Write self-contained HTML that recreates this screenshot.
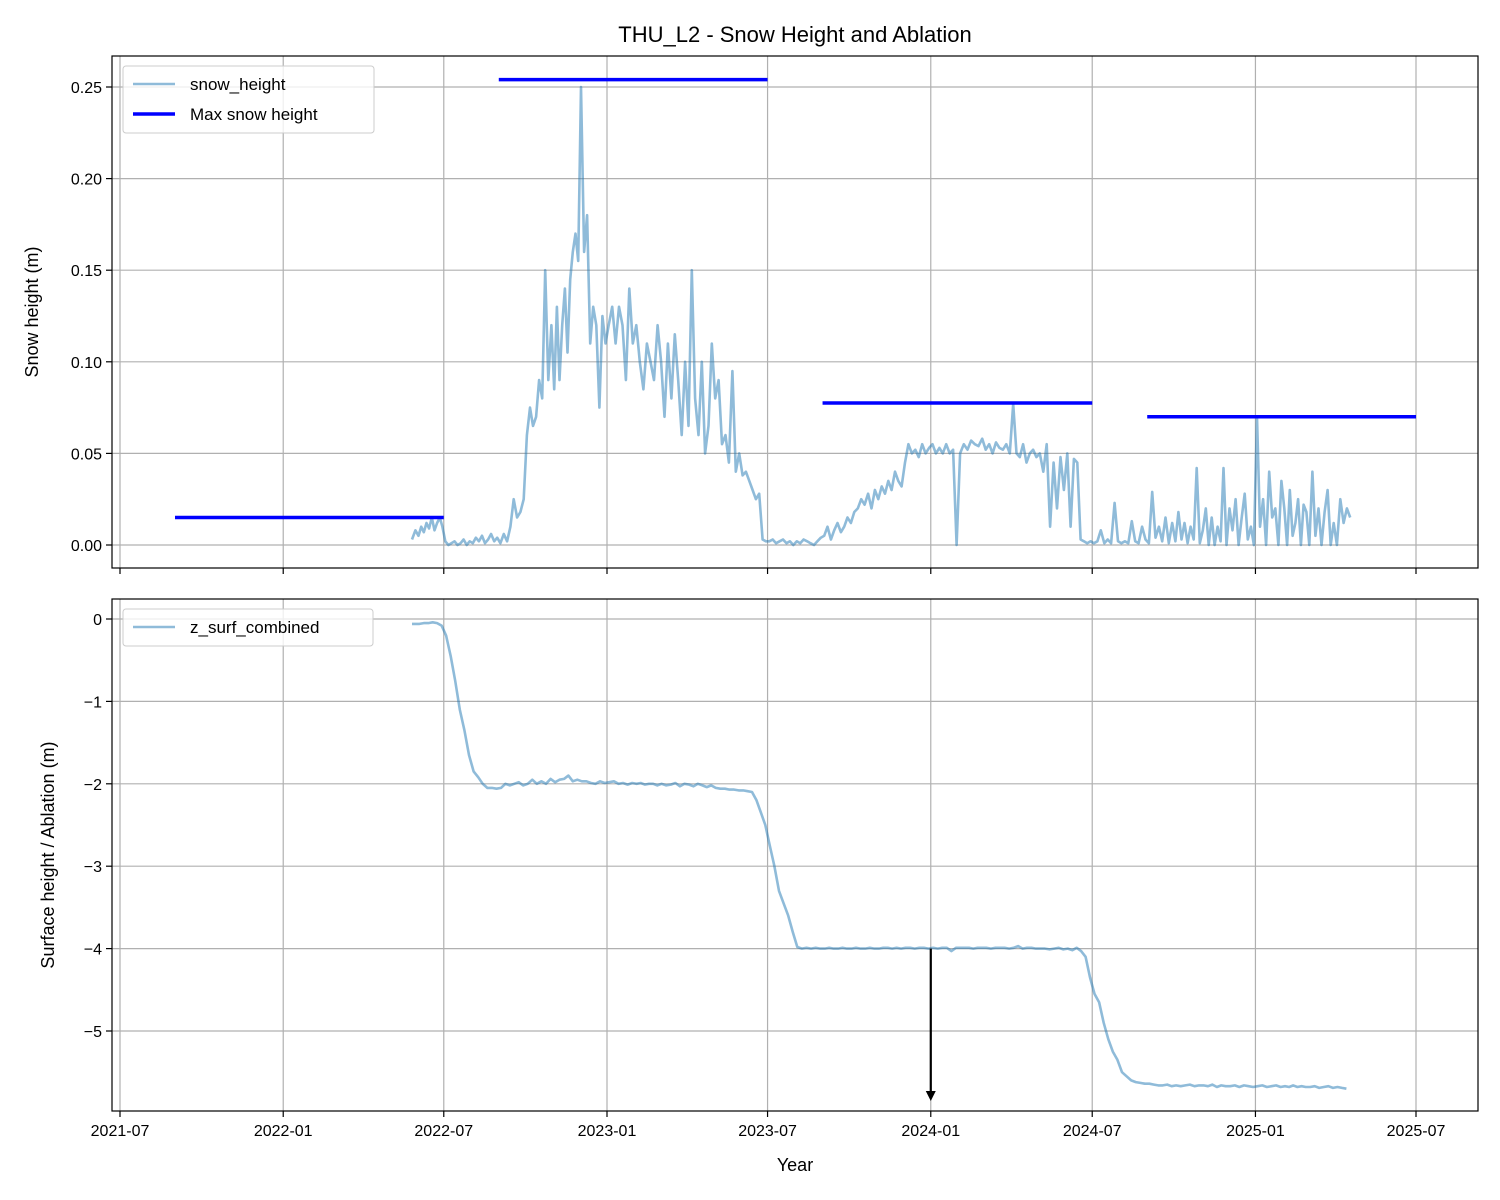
<!DOCTYPE html>
<html><head><meta charset="utf-8"><style>
body{margin:0;background:#fff}
svg{display:block;font-family:"Liberation Sans","DejaVu Sans",sans-serif}
</style></head><body>
<svg id="fig" width="1500" height="1200" viewBox="0 0 1500 1200">
<text x="795" y="42" text-anchor="middle" font-size="22">THU_L2 - Snow Height and Ablation</text>
<g id="topPanel"></g>
<g id="botPanel"></g>
<text x="795" y="1171" text-anchor="middle" font-size="18">Year</text>
<text transform="translate(38,312) rotate(-90)" text-anchor="middle" font-size="18">Snow height (m)</text>
<text transform="translate(54,855) rotate(-90)" text-anchor="middle" font-size="18">Surface height / Ablation (m)</text>
</svg>
<script>
const xTickLabels=['2021-07','2022-01','2022-07','2023-01','2023-07','2024-01','2024-07','2025-01','2025-07'];
const topYTicks=[0,0.05,0.10,0.15,0.20,0.25];
const topYLabels=['0.00','0.05','0.10','0.15','0.20','0.25'];
const botYTicks=[0,-1,-2,-3,-4,-5];
const botYLabels=['0','\u22121','\u22122','\u22123','\u22124','\u22125'];
const maxStart=['2021-09-01','2022-09-01','2023-09-01','2024-09-01'];
const maxEnd=['2022-07-01','2023-07-01','2024-07-01','2025-07-01'];
const maxVals=[0.015,0.254,0.0775,0.070];
const snowMonths=['2022-05','2022-06','2022-07','2022-08','2022-09','2022-10','2022-11','2022-12','2023-01','2023-02','2023-03','2023-04','2023-05','2023-06','2023-07','2023-08','2023-09','2023-10','2023-11','2023-12','2024-01','2024-02','2024-03','2024-04','2024-05','2024-06','2024-07','2024-08','2024-09','2024-10','2024-11','2024-12','2025-01','2025-02','2025-03','2025-04'];
const snowVals=[
[null,null,null,null,null,null,0.003,0.008],
[0.005,0.01,0.007,0.012,0.009,0.015,0.008,0.012,0.015,0.01],
[0.002,0,0.001,0.002,0,0.001,0.003,0,0.002],
[0.001,0.004,0.002,0.005,0.001,0.003,0.006,0.002,0.004],
[0.001,0.006,0.002,0.01,0.025,0.015,0.018,0.025],
[0.06,0.075,0.065,0.07,0.09,0.08,0.15,0.09,0.12],
[0.085,0.13,0.09,0.12,0.14,0.105,0.145,0.16,0.17,0.155],
[0.25,0.16,0.18,0.11,0.13,0.12,0.075,0.125,0.11],
[0.12,0.13,0.11,0.13,0.12,0.09,0.14,0.11],
[0.12,0.1,0.085,0.11,0.1,0.09,0.12],
[0.1,0.07,0.11,0.08,0.115,0.09,0.06,0.1],
[0.065,0.15,0.08,0.06,0.1,0.05,0.065,0.11],
[0.08,0.09,0.055,0.06,0.045,0.095,0.04,0.05],
[0.038,0.04,0.035,0.03,0.025,0.028,0.003,0.002],
[0.002,0.003,0.001,0.002,0.003,0.001,0.002,0],
[0.002,0.001,0.003,0.002,0.001,0,0.002,0.004],
[0.005,0.01,0.003,0.008,0.012,0.007,0.01,0.015],
[0.012,0.018,0.02,0.025,0.022,0.028,0.02,0.03],
[0.025,0.032,0.028,0.035,0.03,0.04,0.035,0.032],
[0.045,0.055,0.05,0.052,0.048,0.055,0.05,0.053],
[0.055,0.05,0.053,0.05,0.055,0.05,0.052,0.0],
[0.05,0.055,0.052,0.057,0.055,0.054,0.058],
[0.052,0.055,0.05,0.056,0.053,0.052,0.055,0.05],
[0.077,0.05,0.048,0.055,0.045,0.05,0.052,0.048],
[0.05,0.04,0.055,0.01,0.045,0.02,0.048,0.03],
[0.05,0.01,0.047,0.045,0.003,0.002,0.001,0.002],
[0.001,0.002,0.008,0.001,0.003,0.001,0.023,0.002],
[0.001,0.002,0.001,0.013,0.002,0.001,0.01,0.003],
[0.001,0.029,0.004,0.01,0.002,0.015,0.001,0.012],
[0.002,0.018,0.003,0.012,0.001,0.01,0.003,0.042,0.001],
[0.008,0.02,0.0,0.015,0.0,0.01,0.002,0.042,0.0],
[0.02,0.008,0.025,0.0,0.015,0.028,0.003,0.01,0.0],
[0.07,0.01,0.025,0.0,0.04,0.015,0.02,0.0,0.035],
[0.02,0.0,0.03,0.005,0.012,0.025,0.0,0.022,0.018],
[0.0,0.04,0.005,0.02,0.0,0.018,0.03,0.0,0.012],
[0.0,0.025,0.012,0.02,0.015,null,null,null]
];
const surfMonths=['2022-05','2022-06','2022-07','2022-08','2022-09','2022-10','2022-11','2022-12','2023-01','2023-02','2023-03','2023-04','2023-05','2023-06','2023-07','2023-08','2023-09','2023-10','2023-11','2023-12','2024-01','2024-02','2024-03','2024-04','2024-05','2024-06','2024-07','2024-08','2024-09','2024-10','2024-11','2024-12','2025-01','2025-02','2025-03','2025-04'];
const surfVals=[
[null,null,null,null,null,null,-0.06,-0.06],
[-0.06,-0.05,-0.05,-0.04,-0.05,-0.08],
[-0.2,-0.45,-0.75,-1.1,-1.35,-1.65],
[-1.85,-1.92,-2.0,-2.05,-2.05,-2.06],
[-2.05,-2.0,-2.02,-2.0,-1.98,-2.02],
[-2.0,-1.95,-2.0,-1.97,-2.0,-1.94],
[-1.98,-1.95,-1.94,-1.9,-1.97,-1.95],
[-1.97,-1.97,-1.99,-2.0,-1.97,-1.99],
[-1.98,-1.97,-2.0,-1.99,-2.01,-1.99],
[-2.0,-1.99,-2.01,-2.0,-2.0,-2.02],
[-2.0,-2.02,-2.01,-1.99,-2.03,-2.0],
[-2.01,-2.03,-2.0,-2.02,-2.04,-2.02],
[-2.05,-2.06,-2.06,-2.07,-2.07,-2.08],
[-2.08,-2.09,-2.1,-2.2,-2.35,-2.5],
[-2.75,-3.0,-3.3,-3.45,-3.6,-3.8],
[-3.98,-4.0,-3.99,-4.0,-3.99,-4.0],
[-4.0,-3.99,-4.0,-4.0,-3.99,-4.0],
[-4.0,-3.99,-4.0,-4.0,-3.99,-4.0],
[-4.0,-3.99,-3.99,-4.0,-3.99,-4.0],
[-3.99,-3.99,-4.0,-3.99,-3.99,-4.0],
[-3.99,-4.0,-3.99,-3.99,-4.03,-3.99],
[-3.99,-3.99,-3.99,-4.0,-3.99,-3.99],
[-3.99,-4.0,-3.99,-3.99,-3.99,-4.0],
[-3.99,-3.97,-4.0,-3.99,-3.99,-4.0],
[-4.0,-4.0,-4.01,-4.0,-3.99,-4.01],
[-4.0,-4.02,-3.99,-4.03,-4.1,-4.35],
[-4.55,-4.65,-4.9,-5.1,-5.25,-5.35],
[-5.5,-5.55,-5.6,-5.62,-5.63,-5.64],
[-5.64,-5.65,-5.66,-5.66,-5.65,-5.67],
[-5.66,-5.67,-5.66,-5.65,-5.67,-5.66],
[-5.66,-5.67,-5.65,-5.68,-5.66,-5.67],
[-5.67,-5.66,-5.68,-5.66,-5.67,-5.68],
[-5.67,-5.66,-5.68,-5.67,-5.66,-5.68],
[-5.67,-5.68,-5.66,-5.68,-5.67,-5.68],
[-5.68,-5.67,-5.69,-5.68,-5.67,-5.69],
[-5.68,-5.69,-5.7,null,null,null]
];
const arrowDate='2024-01-01', arrowFrom=-4.0, arrowTo=-5.85;

const NS='http://www.w3.org/2000/svg';
const D0=Date.UTC(2021,6,1), D1=Date.UTC(2025,6,1);
function day(s){const p=s.split('-');return Date.UTC(+p[0],+p[1]-1,p[2]?+p[2]:1);}
function xs(t){return 120+(t-D0)/(D1-D0)*1296;}
function yTop(v){return 545-v*1832;}
function yBot(v){return 619-v*82.4;}
function mk(tag,attrs,parent){const e=document.createElementNS(NS,tag);for(const k in attrs)e.setAttribute(k,attrs[k]);parent.appendChild(e);return e;}
function monthPts(months,vals,ys){const pts=[];months.forEach((m,i)=>{const a=day(m);const p=m.split('-');const b=Date.UTC(+p[0],+p[1],1);const n=vals[i].length;vals[i].forEach((v,j)=>{if(v===null)return;const t=a+(j+0.5)/n*(b-a);pts.push(xs(t).toFixed(1)+','+ys(v).toFixed(1));});});return pts.join(' ');}

function panel(g,yTopPx,yBotPx,yt,yl,ys,tickLabels){
  const L=112,R=1478;
  const cl=mk('clipPath',{id:'c'+yTopPx},g);mk('rect',{x:L,y:yTopPx,width:R-L,height:yBotPx-yTopPx},cl);
  xTickLabels.forEach((lab)=>{const x=xs(day(lab));
    const gl=mk('line',{x1:x,x2:x,y1:yTopPx,y2:yBotPx,stroke:'#b0b0b0','stroke-width':1.2},g);
    
    const tk=mk('line',{x1:x,x2:x,y1:yBotPx,y2:yBotPx+6,stroke:'#000','stroke-width':1.2},g);
    
    if(tickLabels){const t=mk('text',{x:x,y:yBotPx+25,'text-anchor':'middle','font-size':16},g);t.textContent=lab;
      }
  });
  yt.forEach((v,i)=>{const y=ys(v);
    const gl=mk('line',{x1:L,x2:R,y1:y,y2:y,stroke:'#b0b0b0','stroke-width':1.2},g);
    
    const tk=mk('line',{x1:L-6,x2:L,y1:y,y2:y,stroke:'#000','stroke-width':1.2},g);
    
    const t=mk('text',{x:L-10,y:y+6,'text-anchor':'end','font-size':16},g);t.textContent=yl[i];
    
  });
  return 'url(#c'+yTopPx+')';
}
const topG=document.getElementById('topPanel'), botG=document.getElementById('botPanel');
const c1=panel(topG,56,568,topYTicks,topYLabels,yTop,false);
const c2=panel(botG,599,1111,botYTicks,botYLabels,yBot,true);

const sl=mk('polyline',{points:monthPts(snowMonths,snowVals,yTop),fill:'none',stroke:'#1f77b4','stroke-opacity':0.5,'stroke-width':2.6,'stroke-linejoin':'round','clip-path':c1},topG);


maxVals.forEach((v,i)=>{const l=mk('line',{x1:xs(day(maxStart[i])),x2:xs(day(maxEnd[i])),y1:yTop(v),y2:yTop(v),stroke:'#0000ff','stroke-width':3.5},topG);
  
  });
const zl=mk('polyline',{points:monthPts(surfMonths,surfVals,yBot),fill:'none',stroke:'#1f77b4','stroke-opacity':0.5,'stroke-width':2.6,'stroke-linejoin':'round','clip-path':c2},botG);


const ax=xs(day(arrowDate));
const ar=mk('line',{x1:ax,x2:ax,y1:yBot(arrowFrom),y2:yBot(arrowTo)-9,stroke:'#000','stroke-width':2.2},botG);


const ah=mk('polygon',{points:`${ax-5},${yBot(arrowTo)-10} ${ax+5},${yBot(arrowTo)-10} ${ax},${yBot(arrowTo)}`,fill:'#000'},botG);



[[topG,56,568],[botG,599,1111]].forEach(([g,t,b])=>{const r=mk('rect',{x:112,y:t,width:1366,height:b-t,fill:'none',stroke:'#000','stroke-width':1.2},g);
  
  });

const lg1=mk('g',{},topG);


mk('rect',{x:123,y:66,width:251,height:67,rx:3,fill:'#fff','fill-opacity':0.8,stroke:'#ccc'},lg1);
mk('line',{x1:133,x2:175,y1:84,y2:84,stroke:'#1f77b4','stroke-opacity':0.5,'stroke-width':2.6},lg1);
let t=mk('text',{x:190,y:90,'font-size':17},lg1);t.textContent='snow_height';


mk('line',{x1:133,x2:175,y1:114,y2:114,stroke:'#0000ff','stroke-width':3.5},lg1);
t=mk('text',{x:190,y:120,'font-size':17},lg1);t.textContent='Max snow height';


const lg2=mk('g',{},botG);


mk('rect',{x:123,y:609,width:250,height:37,rx:3,fill:'#fff','fill-opacity':0.8,stroke:'#ccc'},lg2);
mk('line',{x1:133,x2:175,y1:627,y2:627,stroke:'#1f77b4','stroke-opacity':0.5,'stroke-width':2.6},lg2);
t=mk('text',{x:190,y:633,'font-size':17},lg2);t.textContent='z_surf_combined';


</script>
</body></html>
